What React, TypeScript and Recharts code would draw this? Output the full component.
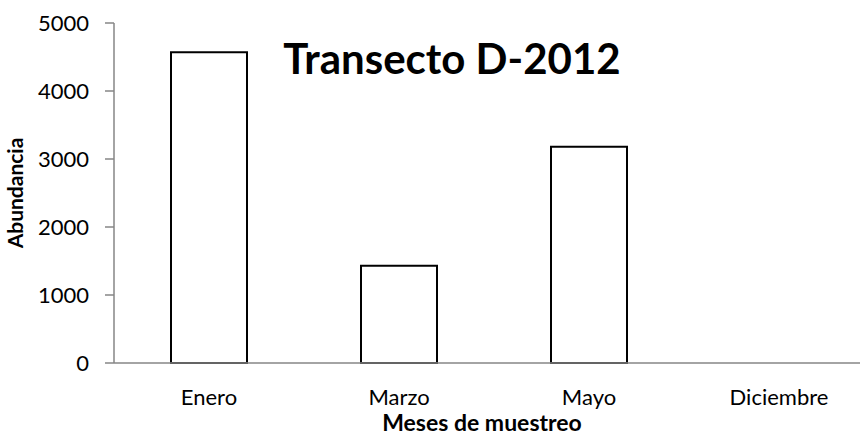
import React from 'react';
import { BarChart, Bar, XAxis, YAxis } from 'recharts';

const months = ['Enero', 'Marzo', 'Mayo', 'Diciembre'];
const abundancia = [4570, 1430, 3180, 0];
const yTicks = [0, 1000, 2000, 3000, 4000, 5000];

const data = months.map((m, i) => ({ mes: m, abundancia: abundancia[i] }));

const FONT = 'Lato, "Liberation Sans", sans-serif';
const AXIS_GREY = '#868686';

export default function App() {
  return (
    <div
      style={{
        position: 'fixed', left: 0, top: 0, width: 860, height: 436,
        overflow: 'hidden', background: '#fff', fontFamily: FONT,
      }}
    >
      <BarChart
        width={874}
        height={436}
        data={data}
        margin={{ top: 23, right: 0, bottom: 0, left: 0 }}
        barSize={76}
      >
        <XAxis
          dataKey="mes"
          height={73}
          stroke={AXIS_GREY}
          strokeWidth={1.5}
          tickLine={false}
          tickMargin={20}
          tick={{ fill: '#000', fontSize: 22, fontFamily: FONT }}
          label={{
            value: 'Meses de muestreo', position: 'insideBottom', offset: 5, dx: -12,
            style: { fill: '#000', fontSize: 23, fontWeight: 700, fontFamily: FONT },
          }}
        />
        <YAxis
          width={114}
          domain={[0, 5000]}
          ticks={yTicks}
          stroke={AXIS_GREY}
          strokeWidth={1.5}
          tickSize={9}
          tickMargin={16}
          tick={{ fill: '#000', fontSize: 22, fontFamily: FONT }}
          label={{
            value: 'Abundancia', angle: -90, position: 'insideLeft', offset: 16,
            style: { fill: '#000', fontSize: 21, fontWeight: 700, fontFamily: FONT, textAnchor: 'middle' },
          }}
        />
        <Bar
          dataKey="abundancia"
          fill="#fff"
          stroke="#000"
          strokeWidth={2}
          isAnimationActive={false}
        />
      </BarChart>
      <div
        style={{
          position: 'absolute', left: 272, top: 34, width: 360, textAlign: 'center',
          fontSize: 42, fontWeight: 700, color: '#000', lineHeight: '48px',
        }}
      >
        Transecto D-2012
      </div>
    </div>
  );
}
